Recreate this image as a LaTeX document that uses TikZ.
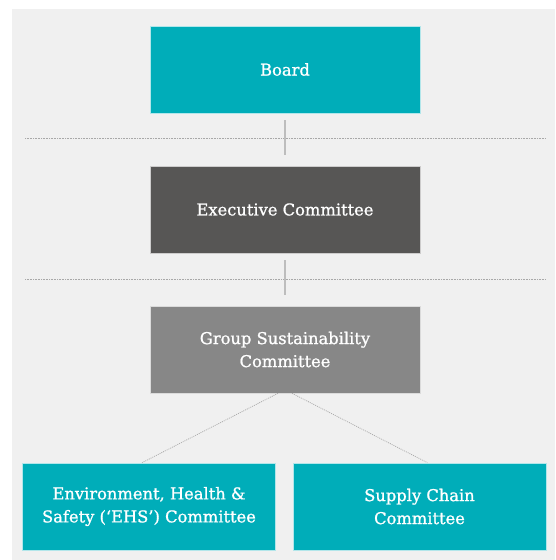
\documentclass[tikz,border=0pt]{standalone}
\usepackage{fontspec}
\setmainfont{DejaVu Serif}
\newfontfamily\boxfont{DejaVu Serif}[FakeBold=1]
\definecolor{teal1}{HTML}{00ADB9}
\definecolor{dark1}{HTML}{575655}
\definecolor{mid1}{HTML}{878787}
\definecolor{bg1}{HTML}{F0F0F0}
\definecolor{conn1}{HTML}{BDBDBD}
\definecolor{dot1}{HTML}{A8A8A8}
\tikzset{
  box/.style={draw=white!70!#1, line width=0.6pt, fill=#1, text=white, align=center,
    minimum width=270pt, minimum height=87pt, inner sep=0pt,
    font=\boxfont\fontsize{16.3}{23}\selectfont},
  smallbox/.style={box=teal1, minimum width=253pt},
  vconn/.style={draw=conn1, line width=1.5pt},
  sepline/.style={draw=dot1, line width=0.8pt, dash pattern=on 0.8pt off 0.8pt},
  diag/.style={draw=dot1, line width=0.7pt, dash pattern=on 1pt off 1pt},
}
\begin{document}
\begin{tikzpicture}[x=1pt,y=-1pt]
\useasboundingbox (0,0) rectangle (555,560);
\fill[white] (0,0) rectangle (555,560);
\fill[bg1] (12,9) rectangle (555,560);
\node[box=teal1] (board) at (285,69.5) {Board};
\node[box=dark1] (exec) at (285,209.5) {Executive Committee};
\node[box=mid1] (gsc) at (285,349.5) {Group Sustainability\\Committee};
\node[smallbox] (ehs) at (149,506.5) {Environment, Health \&\\Safety (‘EHS’) Committee};
\node[smallbox] (scc) at (419.5,506.5) {Supply Chain\\Committee};
\coordinate (s1l) at (25,138);
\coordinate (s1r) at (546,138);
\coordinate (s2l) at (25,279);
\coordinate (s2r) at (546,279);
\draw[sepline] (s1l) -- (s1r);
\draw[sepline] (s2l) -- (s2r);
\draw[vconn] ([yshift=-7pt]board.south) -- ([yshift=-42pt]board.south);
\draw[vconn] ([yshift=-7pt]exec.south) -- ([yshift=-42pt]exec.south);
\draw[diag] ([xshift=-7pt]gsc.south) -- ([xshift=-7pt]ehs.north);
\draw[diag] ([xshift=7pt]gsc.south) -- ([xshift=8pt]scc.north);
\end{tikzpicture}
\end{document}
